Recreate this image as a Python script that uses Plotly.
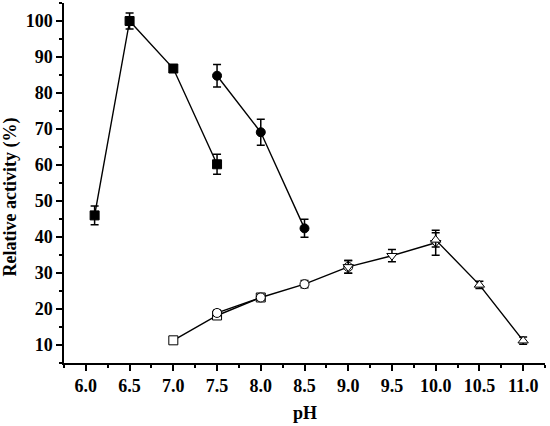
import plotly.graph_objects as go

# filled series
ph_fill_sq = [6.1, 6.5, 7.0, 7.5]
act_fill_sq = [46.0, 100.0, 86.8, 60.2]
err_fill_sq = [2.6, 2.2, 0.8, 2.8]

ph_fill_ci = [7.5, 8.0, 8.5]
act_fill_ci = [84.8, 69.1, 42.4]
err_fill_ci = [3.1, 3.6, 2.5]

# open series
ph_open_sq = [7.0, 7.5, 8.0]
act_open_sq = [11.3, 18.2, 23.2]
err_open_sq = [0.5, 1.0, 0.8]

ph_open_ci = [7.5, 8.0, 8.5, 9.0]
act_open_ci = [18.9, 23.2, 26.9, 31.7]
err_open_ci = [0.8, 0.8, 1.0, 1.8]

ph_open_dn = [9.0, 9.5, 10.0]
act_open_dn = [31.7, 34.8, 38.4]
err_open_dn = [1.8, 1.7, 3.5]

ph_open_up = [10.0, 10.5, 11.0]
act_open_up = [39.2, 26.7, 11.2]
err_open_up = [2.0, 1.0, 1.0]

x_ticks = [6.0, 6.5, 7.0, 7.5, 8.0, 8.5, 9.0, 9.5, 10.0, 10.5, 11.0]

FONT = "Liberation Serif"


def add_series(fig, x, y, err, symbol, fill):
    fig.add_trace(
        go.Scatter(
            x=x,
            y=y,
            mode="lines+markers",
            line=dict(color="black", width=1.4),
            marker=dict(
                symbol=symbol,
                size=9,
                color=fill,
                line=dict(color="black", width=1),
            ),
            error_y=dict(type="data", array=err, color="black", thickness=1.5, width=4),
            showlegend=False,
        )
    )


fig = go.Figure()
add_series(fig, ph_fill_sq, act_fill_sq, err_fill_sq, "square", "black")
add_series(fig, ph_fill_ci, act_fill_ci, err_fill_ci, "circle", "black")
add_series(fig, ph_open_sq, act_open_sq, err_open_sq, "square", "white")
add_series(fig, ph_open_ci, act_open_ci, err_open_ci, "circle", "white")
add_series(fig, ph_open_dn, act_open_dn, err_open_dn, "triangle-down", "white")
add_series(fig, ph_open_up, act_open_up, err_open_up, "triangle-up", "white")

axis_style = dict(
    showline=True,
    linecolor="black",
    linewidth=1.5,
    showgrid=False,
    zeroline=False,
    automargin=False,
    ticks="outside",
    ticklen=6,
    tickwidth=1.5,
    tickcolor="black",
    tickfont=dict(family=FONT, size=18, color="black", weight="bold"),
)

fig.update_xaxes(
    **axis_style,
    range=[5.75, 11.25],
    tickvals=x_ticks,
    ticktext=[f"{v:.1f}" for v in x_ticks],
    minor=dict(dtick=0.25, tick0=5.75, ticks="outside", ticklen=3, tickwidth=1.5, tickcolor="black"),
)
fig.update_yaxes(
    **axis_style,
    range=[5, 105],
    tick0=10,
    dtick=10,
    minor=dict(dtick=5, tick0=5, ticks="outside", ticklen=3, tickwidth=1.5, tickcolor="black"),
)

title_font = dict(family=FONT, size=18, color="black", weight="bold")
fig.add_annotation(
    text="pH", xref="paper", yref="paper", x=0.5, y=-0.14,
    xanchor="center", yanchor="middle", showarrow=False, font=title_font,
)
fig.add_annotation(
    text="Relative activity (%)", xref="paper", yref="paper", x=-0.112, y=0.46,
    xanchor="center", yanchor="middle", textangle=-90, showarrow=False, font=title_font,
)

fig.update_layout(
    width=550,
    height=426,
    margin=dict(l=64, r=5, t=3, b=63),
    paper_bgcolor="white",
    plot_bgcolor="white",
)

# drop the browser's default body margin so the figure sits at the page corner
fig.write_html(
    "out.html",
    config={"displayModeBar": False},
    post_script="document.body.style.margin='0';",
)
